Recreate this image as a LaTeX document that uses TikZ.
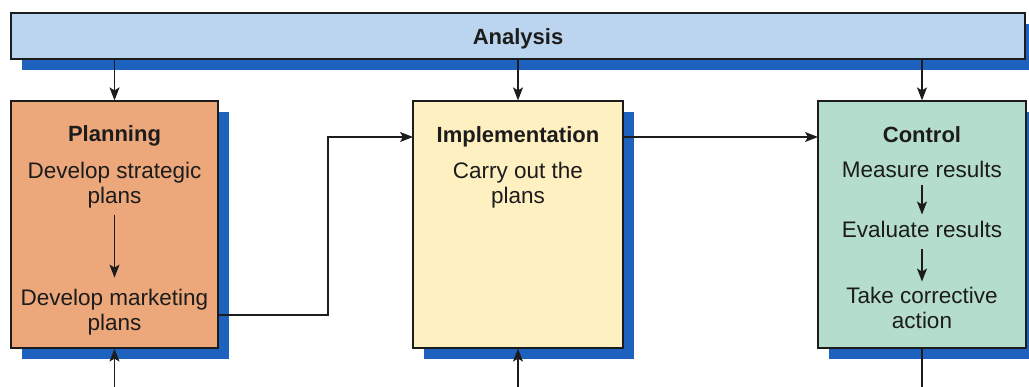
\documentclass[tikz,border=0pt]{standalone}
\usepackage{fontspec}
\setmainfont{Liberation Sans}
\usetikzlibrary{shadows,arrows.meta}
\definecolor{barblue}{RGB}{187,213,240}
\definecolor{shadowblue}{RGB}{30,98,192}
\definecolor{planorange}{RGB}{236,167,122}
\definecolor{implyellow}{RGB}{254,240,193}
\definecolor{ctrlgreen}{RGB}{181,221,204}
\definecolor{inkgray}{RGB}{28,28,28}
\tikzset{
  box/.style={draw=inkgray, line width=1.2pt, inner sep=0pt,
    general shadow={shadow xshift=11pt, shadow yshift=-11pt, fill=shadowblue, draw=none}},
  txt/.style={font=\fontsize{22.5}{25}\selectfont, text=inkgray, inner sep=0pt, align=center},
  hd/.style={font=\fontsize{22}{25}\selectfont\bfseries, text=inkgray, inner sep=0pt},
  arr/.style={draw=inkgray, line width=1.2pt, -{Stealth[length=13pt,width=10pt,inset=3pt]}},
  ln/.style={draw=inkgray, line width=1.2pt}
}
\begin{document}
\begin{tikzpicture}[x=1pt,y=-1pt]
\useasboundingbox (0,0) rectangle (1029,387);
\clip (0,0) rectangle (1029,387);
% boxes
\node[box, fill=barblue, minimum width=1014pt, minimum height=46pt] (bar) at (518,36) {};
\node[box, fill=planorange, minimum width=207pt, minimum height=247pt] (plan) at (114.5,224.5) {};
\node[box, fill=implyellow, minimum width=210pt, minimum height=247pt] (impl) at (518,224.5) {};
\node[box, fill=ctrlgreen, minimum width=208pt, minimum height=247pt] (ctrl) at (922,224.5) {};
% texts
\node[hd, anchor=base] (ana) at (518,45) {Analysis};
\node[hd, anchor=base] (planh) at (114.5,142) {Planning};
\node[txt] (ds) at (114.5,184.8) {Develop strategic\\plans};
\node[txt] (dm) at (114.5,311.8) {Develop marketing\\plans};
\node[hd, anchor=base] (implh) at (518,143) {Implementation};
\node[txt] (co) at (518,184.8) {Carry out the\\plans};
\node[hd, anchor=base] (ctrlh) at (922,143) {Control};
\node[txt, anchor=base] (mr) at (922,178) {Measure results};
\node[txt, anchor=base] (er) at (922,238) {Evaluate results};
\node[txt] (tc) at (922,307.5) {Take corrective\\action};
% inner arrows
\draw[arr, shorten <=7pt, shorten >=11pt] (ds.south) -- (dm.north);
\draw[arr, shorten <=7pt, shorten >=7pt] (mr.south) -- (er.north);
\draw[arr, shorten <=11pt, shorten >=5pt] (er.south) -- (tc.north);
% top arrows
\draw[arr] (bar.south -| plan.north) -- (plan.north);
\draw[arr] (bar.south -| impl.north) -- (impl.north);
\draw[arr] (bar.south -| ctrl.north) -- (ctrl.north);
% flow arrows
\coordinate (pout) at (218,315);
\coordinate (bend) at (328,315);
\coordinate (iin) at (413,137);
\coordinate (iout) at (623,137);
\coordinate (cin) at (818,137);
\draw[arr] (pout) -- (bend) |- (iin);
\draw[arr] (iout) -- (cin);
% bottom connectors
\coordinate (pb) at (114.5,395);
\coordinate (ib) at (518,395);
\coordinate (cb) at (922,395);
\draw[arr] (pb) -- (plan.south);
\draw[arr] (ib) -- (impl.south);
\draw[ln] (ctrl.south) -- (cb);
\end{tikzpicture}
\end{document}
